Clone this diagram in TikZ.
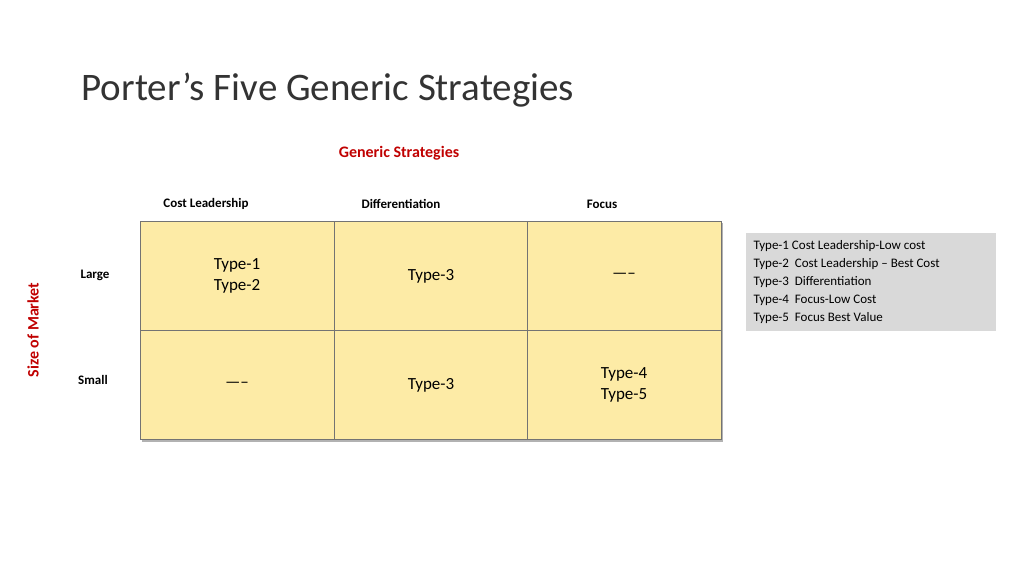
\documentclass[tikz,border=0pt]{standalone}
\usepackage{fontspec}
\setmainfont{Carlito}
\begin{document}
\begin{tikzpicture}[x=1pt,y=-1pt,
 cell/.style={draw=black!55,fill=yellow!20!orange!25!white,fill=cellc,line width=0.8pt},
 ctext/.style={font=\fontsize{17}{21}\selectfont,align=center},
 head/.style={font=\bfseries\fontsize{13}{15}\selectfont},
 leg/.style={font=\fontsize{13}{18}\selectfont,anchor=west}]
\definecolor{cellc}{HTML}{FDEBA6}
\definecolor{redc}{HTML}{C00000}
\definecolor{legc}{HTML}{D9D9D9}
\useasboundingbox (0,0) rectangle (1024,576);
\node[anchor=base west,font=\fontsize{39}{44}\selectfont,text=black!80] (title) at (78,100) {Porter’s Five Generic Strategies};
\node[font=\bfseries\fontsize{16}{19}\selectfont,text=redc] (gs) at (399,153) {Generic Strategies};
\node[head] (h1) at (206,204) {Cost Leadership};
\node[head] (h2) at (401,204) {Differentiation};
\node[head] (h3) at (602,204) {Focus};
\node[head] (large) at (95,275) {Large};
\node[head] (small) at (93,380) {Small};
\node[rotate=90,font=\bfseries\fontsize{16}{19}\selectfont,text=redc] (size) at (33,330) {Size of Market};
\fill[black!30] (142,223) rectangle (723,442);
\foreach \i/\x in {0/140,1/334,2/527}{
 \foreach \j/\y in {0/221,1/330}{
  \draw[cell] (\x,\y) rectangle ++(194,109);
 }}
\node[ctext] (c11) at (237,276) {Type-1\\Type-2};
\node[ctext] (c12) at (431,276) {Type-3};
\node[ctext] (c13) at (624,276) {-----};
\node[ctext] (c21) at (237,385) {-----};
\node[ctext] (c22) at (431,385) {Type-3};
\node[ctext] (c23) at (624,385) {Type-4\\Type-5};
\fill[legc] (746,233) rectangle (996,331);
\node[leg] (l1) at (750,246) {Type-1 Cost Leadership-Low cost};
\node[leg] (l2) at (750,264) {Type-2\ \ Cost Leadership – Best Cost};
\node[leg] (l3) at (750,282) {Type-3\ \ Differentiation};
\node[leg] (l4) at (750,300) {Type-4\ \ Focus-Low Cost};
\node[leg] (l5) at (750,318) {Type-5\ \ Focus Best Value};
\end{tikzpicture}
\end{document}
